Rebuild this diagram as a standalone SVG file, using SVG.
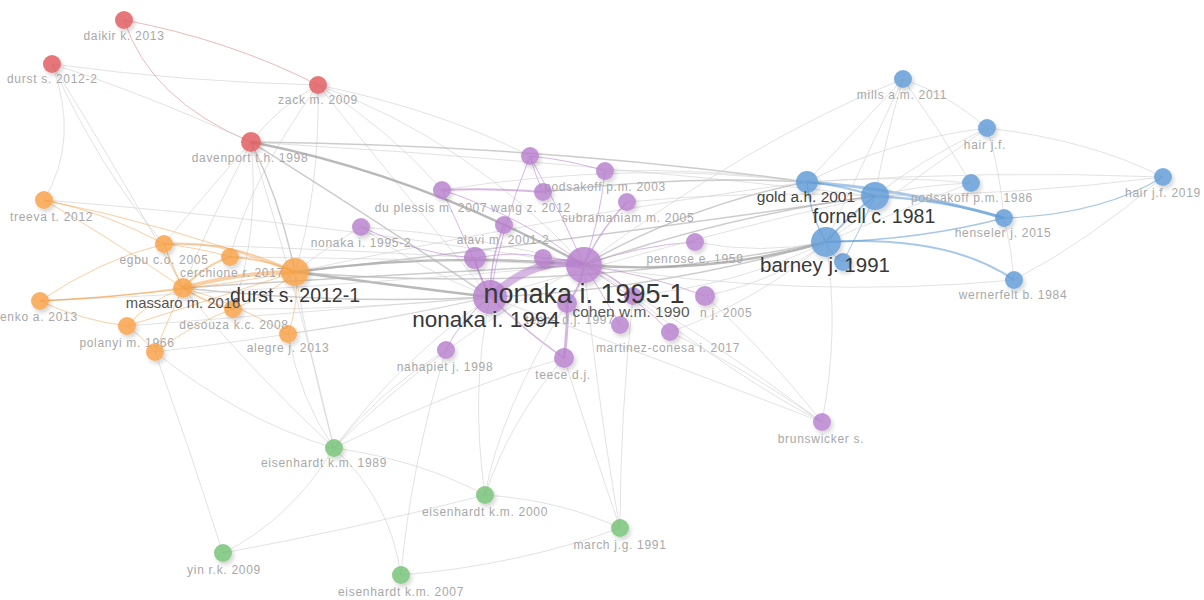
<svg xmlns="http://www.w3.org/2000/svg" width="1204" height="600" viewBox="0 0 1204 600">
<defs>
<filter id="sh" x="-50%" y="-50%" width="200%" height="200%"><feDropShadow dx="2" dy="3" stdDeviation="2.2" flood-color="#000" flood-opacity="0.2"/></filter>
<style>
.e{fill:none;stroke:#cfcfcf;stroke-width:1;opacity:.6}
.e2{fill:none;stroke:#b0b0b0;stroke-width:1.5;opacity:.65}
.e3{fill:none;stroke:#949494;stroke-width:2.4;opacity:.65}
.eo{fill:none;stroke:#f4a04a;opacity:.5}
.ep{fill:none;stroke:#b57ccc;opacity:.55}
.eb{fill:none;stroke:#5f9bd6;opacity:.55}
.er{fill:none;stroke:#e08a8e;opacity:.6}
circle{filter:url(#sh);opacity:.82}
.r{fill:#e05a5f}.o{fill:#f7a145}.p{fill:#b77fcc}.b{fill:#5f9bd6}.g{fill:#73c173}
text{font-family:"Liberation Sans",Arial,sans-serif;text-anchor:middle}
.l{font-size:12px;letter-spacing:.7px;fill:#a8a8a8}
.m{fill:#555}
.k{fill:#383838}
</style>
</defs>
<rect width="1204" height="600" fill="#fff"/>
<g id="connectors">
<path class="e" d="M52,64 Q185,82 318,85"/>
<path class="er" d="M124,20 Q230,40 318,85"/>
<path class="er" d="M124,20 Q150,100 251,142"/>
<path class="e" d="M52,64 Q140,92 251,142"/>
<path class="e" d="M52,64 Q80,140 44,200"/>
<path class="e" d="M52,64 Q100,170 164,244"/>
<path class="e" d="M52,64 Q130,190 183,288"/>
<path class="e" d="M318,85 Q280,105 251,142"/>
<path class="e" d="M318,85 Q470,140 584,265"/>
<path class="e" d="M318,85 Q410,200 490,297"/>
<path class="e" d="M318,85 Q320,190 295,272"/>
<path class="e" d="M318,85 Q440,110 530,156"/>
<path class="e" d="M318,85 Q390,130 442,190"/>
<path class="e" d="M318,85 Q250,180 230,257"/>
<path class="e" d="M251,142 Q200,200 164,244"/>
<path class="e" d="M251,142 Q210,220 183,288"/>
<path class="e" d="M251,142 Q260,230 233,309"/>
<path class="e" d="M251,142 Q300,300 334,448"/>
<path class="e2" d="M251,142 Q540,145 807,182"/>
<path class="e" d="M251,142 Q560,160 875,196"/>
<path class="e3" d="M251,142 Q420,175 584,265"/>
<path class="e2" d="M251,142 Q360,210 490,297"/>
<path class="e2" d="M251,142 Q280,200 295,272"/>
<path class="e3" d="M295,272 Q440,252 584,265"/>
<path class="e3" d="M295,272 Q390,285 490,297"/>
<path class="e2" d="M295,272 Q560,295 826,242"/>
<path class="e2" d="M295,272 Q580,240 875,196"/>
<path class="e" d="M295,272 Q560,215 807,182"/>
<path class="e2" d="M183,288 Q380,275 584,265"/>
<path class="e2" d="M183,288 Q340,305 490,297"/>
<path class="e" d="M164,244 Q380,250 584,265"/>
<path class="e" d="M230,257 Q400,258 584,265"/>
<path class="e" d="M233,309 Q360,310 490,297"/>
<path class="e" d="M288,334 Q390,320 490,297"/>
<path class="e" d="M361,227 Q330,245 295,272"/>
<path class="e" d="M361,227 Q420,270 490,297"/>
<path class="e" d="M361,227 Q480,235 584,265"/>
<path class="e" d="M127,326 Q330,310 490,297"/>
<path class="e" d="M155,352 Q340,330 490,297"/>
<path class="e" d="M44,200 Q300,220 584,265"/>
<path class="e" d="M40,301 Q300,290 584,265"/>
<path class="eo" stroke-width="4" d="M295,272 Q240,272 183,288"/>
<path class="eo" stroke-width="2" d="M295,272 Q262,258 230,257"/>
<path class="eo" stroke-width="2" d="M295,272 Q230,240 164,244"/>
<path class="eo" stroke-width="1.5" d="M183,288 Q170,262 164,244"/>
<path class="eo" stroke-width="2" d="M183,288 Q205,265 230,257"/>
<path class="eo" stroke-width="1.5" d="M183,288 Q210,305 233,309"/>
<path class="eo" stroke-width="1" d="M183,288 Q105,235 44,200"/>
<path class="eo" stroke-width="1.5" d="M183,288 Q110,298 40,301"/>
<path class="eo" stroke-width="1" d="M40,301 Q100,260 164,244"/>
<path class="eo" stroke-width="1" d="M40,301 Q80,320 127,326"/>
<path class="eo" stroke-width="1" d="M40,301 Q170,295 295,272"/>
<path class="eo" stroke-width="1" d="M44,200 Q105,212 164,244"/>
<path class="eo" stroke-width="1" d="M44,200 Q170,225 295,272"/>
<path class="eo" stroke-width="1" d="M127,326 Q150,300 183,288"/>
<path class="eo" stroke-width="1" d="M127,326 Q210,300 295,272"/>
<path class="eo" stroke-width="1" d="M155,352 Q140,335 127,326"/>
<path class="eo" stroke-width="1" d="M155,352 Q170,315 183,288"/>
<path class="eo" stroke-width="1" d="M155,352 Q200,320 233,309"/>
<path class="eo" stroke-width="1" d="M233,309 Q270,295 295,272"/>
<path class="eo" stroke-width="1" d="M288,334 Q300,300 295,272"/>
<path class="eo" stroke-width="1" d="M288,334 Q230,300 183,288"/>
<path class="eo" stroke-width="1" d="M230,257 Q200,248 164,244"/>
<path class="ep" stroke-width="8" d="M490,297 Q537,255 584,265"/>
<path class="ep" stroke-width="2" d="M442,190 Q492,188 543,192"/>
<path class="ep" stroke-width="1.5" d="M504,225 Q490,260 490,297"/>
<path class="ep" stroke-width="1.5" d="M490,297 Q478,275 475,258"/>
<path class="ep" stroke-width="1.5" d="M584,265 Q560,258 543,258"/>
<path class="ep" stroke-width="1.5" d="M627,202 Q600,230 584,265"/>
<path class="ep" stroke-width="2" d="M584,265 Q580,290 567,303"/>
<path class="ep" stroke-width="3" d="M567,303 Q568,330 564,358"/>
<path class="ep" stroke-width="1.5" d="M490,297 Q530,335 564,358"/>
<path class="ep" stroke-width="1.5" d="M584,265 Q615,275 633,296"/>
<path class="ep" stroke-width="1" d="M584,265 Q650,275 705,296"/>
<path class="ep" stroke-width="1" d="M584,265 Q640,300 670,332"/>
<path class="ep" stroke-width="1" d="M490,297 Q460,320 446,350"/>
<path class="ep" stroke-width="1" d="M530,156 Q535,175 543,192"/>
<path class="ep" stroke-width="1" d="M530,156 Q560,210 584,265"/>
<path class="ep" stroke-width="1" d="M530,156 Q500,230 490,297"/>
<path class="ep" stroke-width="1" d="M442,190 Q470,250 490,297"/>
<path class="ep" stroke-width="1" d="M442,190 Q520,215 584,265"/>
<path class="ep" stroke-width="1" d="M361,227 Q420,255 475,258"/>
<path class="ep" stroke-width="1" d="M605,171 Q600,220 584,265"/>
<path class="ep" stroke-width="1" d="M605,171 Q570,160 530,156"/>
<path class="ep" stroke-width="1" d="M695,242 Q640,245 584,265"/>
<path class="ep" stroke-width="1" d="M620,325 Q600,290 584,265"/>
<path class="ep" stroke-width="1" d="M475,258 Q520,250 543,258"/>
<path class="e3" d="M584,265 Q710,275 826,242"/>
<path class="e2" d="M584,265 Q730,215 875,196"/>
<path class="e2" d="M584,265 Q690,205 807,182"/>
<path class="e2" d="M490,297 Q660,290 826,242"/>
<path class="e" d="M490,297 Q700,235 875,196"/>
<path class="e2" d="M543,192 Q680,175 807,182"/>
<path class="e" d="M605,171 Q710,168 807,182"/>
<path class="e" d="M695,242 Q760,255 826,242"/>
<path class="e" d="M633,296 Q740,285 826,242"/>
<path class="e" d="M627,202 Q750,190 875,196"/>
<path class="e" d="M442,190 Q630,160 807,182"/>
<path class="e" d="M705,296 Q780,280 826,242"/>
<path class="e" d="M670,332 Q760,300 826,242"/>
<path class="e" d="M1014,280 Q800,300 584,265"/>
<path class="e" d="M584,265 Q750,140 903,79"/>
<path class="e" d="M822,422 Q700,330 584,265"/>
<path class="e" d="M822,422 Q660,360 490,297"/>
<path class="e" d="M822,422 Q740,365 670,332"/>
<path class="e" d="M822,422 Q760,345 705,296"/>
<path class="e" d="M822,422 Q840,330 826,242"/>
<path class="e" d="M822,422 Q740,380 633,296"/>
<path class="eb" stroke-width="3" d="M807,182 Q900,188 1004,218"/>
<path class="eb" stroke-width="2.5" d="M875,196 Q945,200 1004,218"/>
<path class="eb" stroke-width="2" d="M826,242 Q950,235 1014,280"/>
<path class="eb" stroke-width="1.5" d="M826,242 Q920,240 1004,218"/>
<path class="eb" stroke-width="1.2" d="M1004,218 Q1100,215 1163,177"/>
<path class="eb" stroke-width="2" d="M807,182 Q840,185 875,196"/>
<path class="eb" stroke-width="2" d="M875,196 Q850,215 826,242"/>
<path class="eb" stroke-width="1.5" d="M807,182 Q810,215 826,242"/>
<path class="eb" stroke-width="1" d="M843,262 Q830,255 826,242"/>
<path class="eb" stroke-width="1" d="M875,196 Q860,230 843,262"/>
<path class="e" d="M903,79 Q860,125 807,182"/>
<path class="e" d="M903,79 Q885,140 875,196"/>
<path class="e" d="M903,79 Q860,170 826,242"/>
<path class="e" d="M903,79 Q940,130 971,183"/>
<path class="e" d="M903,79 Q950,95 987,128"/>
<path class="e" d="M987,128 Q890,140 807,182"/>
<path class="e" d="M987,128 Q920,160 875,196"/>
<path class="e" d="M987,128 Q900,190 826,242"/>
<path class="e" d="M987,128 Q1090,140 1163,177"/>
<path class="e" d="M987,128 Q1000,170 1004,218"/>
<path class="e" d="M1163,177 Q990,170 807,182"/>
<path class="e" d="M1163,177 Q1020,195 875,196"/>
<path class="e" d="M1163,177 Q1090,240 1014,280"/>
<path class="e" d="M971,183 Q890,175 807,182"/>
<path class="e" d="M971,183 Q920,185 875,196"/>
<path class="e" d="M971,183 Q900,210 826,242"/>
<path class="e" d="M1004,218 Q1012,250 1014,280"/>
<path class="e" d="M334,448 Q400,360 490,297"/>
<path class="e" d="M334,448 Q440,340 584,265"/>
<path class="e" d="M334,448 Q380,390 446,350"/>
<path class="e" d="M334,448 Q450,390 564,358"/>
<path class="e" d="M334,448 Q310,360 295,272"/>
<path class="e" d="M334,448 Q250,370 183,288"/>
<path class="e" d="M334,448 Q300,400 288,334"/>
<path class="e" d="M334,448 Q290,520 223,553"/>
<path class="e" d="M334,448 Q390,500 401,575"/>
<path class="e" d="M334,448 Q420,460 485,495"/>
<path class="e" d="M485,495 Q510,420 564,358"/>
<path class="e" d="M485,495 Q500,410 567,303"/>
<path class="e" d="M485,495 Q470,390 490,297"/>
<path class="e" d="M620,528 Q590,440 564,358"/>
<path class="e" d="M620,528 Q600,420 584,265"/>
<path class="e" d="M620,528 Q620,420 633,296"/>
<path class="e" d="M620,528 Q560,500 485,495"/>
<path class="e" d="M401,575 Q520,565 620,528"/>
<path class="e" d="M223,553 Q350,530 485,495"/>
<path class="e" d="M223,553 Q190,450 155,352"/>
<path class="e" d="M401,575 Q410,470 446,350"/>
<path class="e" d="M155,352 Q240,420 334,448"/>
</g>
<g id="n-daikir"><circle class="r" cx="124" cy="20" r="9"/><text class="l" x="124" y="40">daikir k. 2013</text></g>
<g id="n-durst2"><circle class="r" cx="52" cy="64" r="9"/><text class="l" x="7" y="83" style="text-anchor:start">durst s. 2012-2</text></g>
<g id="n-zack"><circle class="r" cx="318" cy="85" r="9"/><text class="l" x="318" y="104">zack m. 2009</text></g>
<g id="n-davenport"><circle class="r" cx="251" cy="142" r="10"/><text class="l" x="250" y="162">davenport t.h. 1998</text></g>
<g id="n-treeva"><circle class="o" cx="44" cy="200" r="9"/><text class="l" x="10" y="221" style="text-anchor:start">treeva t. 2012</text></g>
<g id="n-egbu"><circle class="o" cx="164" cy="244" r="9"/><text class="l" x="164" y="264">egbu c.o. 2005</text></g>
<g id="n-cerchione"><circle class="o" cx="230" cy="257" r="9"/><text class="l" x="232" y="277">cerchione r. 2017</text></g>
<g id="n-enko"><circle class="o" cx="40" cy="301" r="9"/><text class="l" x="0" y="321" style="text-anchor:start">enko a. 2013</text></g>
<g id="n-desouza"><circle class="o" cx="233" cy="309" r="9"/><text class="l" x="234" y="329">desouza k.c. 2008</text></g>
<g id="n-polanyi"><circle class="o" cx="127" cy="326" r="9"/><text class="l" x="127" y="347">polanyi m. 1966</text></g>
<g id="n-o9"><circle class="o" cx="155" cy="352" r="9"/></g>
<g id="n-alegre"><circle class="o" cx="288" cy="334" r="9"/><text class="l" x="288" y="352">alegre j. 2013</text></g>
<g id="n-massaro"><circle class="o" cx="183" cy="288" r="10"/><text class="m" x="183" y="308" style="font-size:14.8px">massaro m. 2016</text></g>
<g id="n-p1"><circle class="p" cx="530" cy="156" r="9"/></g>
<g id="n-podsakoff2003"><circle class="p" cx="605" cy="171" r="9"/><text class="l" x="605" y="191">podsakoff p.m. 2003</text></g>
<g id="n-duplessis"><circle class="p" cx="442" cy="190" r="9"/><text class="l" x="431" y="212">du plessis m. 2007</text></g>
<g id="n-wang"><circle class="p" cx="543" cy="192" r="9"/><text class="l" x="531" y="212">wang z. 2012</text></g>
<g id="n-subramaniam"><circle class="p" cx="627" cy="202" r="9"/><text class="l" x="628" y="222">subramaniam m. 2005</text></g>
<g id="n-alavi"><circle class="p" cx="504" cy="225" r="9"/><text class="l" x="503" y="244">alavi m. 2001-2</text></g>
<g id="n-nonaka1995-2"><circle class="p" cx="361" cy="227" r="9"/><text class="l" x="361" y="247">nonaka i. 1995-2</text></g>
<g id="n-penrose"><circle class="p" cx="695" cy="242" r="9"/><text class="l" x="695" y="263">penrose e. 1959</text></g>
<g id="n-p9"><circle class="p" cx="475" cy="258" r="11"/></g>
<g id="n-p10"><circle class="p" cx="543" cy="258" r="9"/></g>
<g id="n-jansen"><circle class="p" cx="705" cy="296" r="10"/><text class="l" x="700" y="317" style="text-anchor:start">n j. 2005</text></g>
<g id="n-p16"><circle class="p" cx="620" cy="325" r="9"/></g>
<g id="n-martinez"><circle class="p" cx="670" cy="332" r="9"/><text class="l" x="668" y="352">martinez-conesa i. 2017</text></g>
<g id="n-nahapiet"><circle class="p" cx="446" cy="350" r="9"/><text class="l" x="445" y="371">nahapiet j. 1998</text></g>
<g id="n-teece"><circle class="p" cx="564" cy="358" r="10"/><text class="l" x="563" y="379">teece d.j.</text></g>
<g id="n-brunswicker"><circle class="p" cx="822" cy="422" r="9"/><text class="l" x="821" y="443">brunswicker s.</text></g>
<g id="n-teece1997"><circle class="p" cx="567" cy="303" r="10"/><text class="l" x="570" y="324">teece d.j. 1997</text></g>
<g id="n-cohen"><circle class="p" cx="633" cy="296" r="9"/><text class="m" x="631" y="317" style="font-size:15.5px;fill:#5a5a5a">cohen w.m. 1990</text></g>
<g id="n-mills"><circle class="b" cx="903" cy="79" r="9"/><text class="l" x="902" y="99">mills a.m. 2011</text></g>
<g id="n-hair"><circle class="b" cx="987" cy="128" r="9"/><text class="l" x="985" y="149">hair j.f.</text></g>
<g id="n-hair2019"><circle class="b" cx="1163" cy="177" r="9"/><text class="l" x="1163" y="197">hair j.f. 2019</text></g>
<g id="n-podsakoff1986"><circle class="b" cx="971" cy="183" r="9"/><text class="l" x="972" y="202">podsakoff p.m. 1986</text></g>
<g id="n-henseler"><circle class="b" cx="1004" cy="218" r="9"/><text class="l" x="1003" y="237">henseler j. 2015</text></g>
<g id="n-wernerfelt"><circle class="b" cx="1014" cy="280" r="9"/><text class="l" x="1013" y="299">wernerfelt b. 1984</text></g>
<g id="n-b9"><circle class="b" cx="843" cy="262" r="9"/></g>
<g id="n-gold"><circle class="b" cx="807" cy="182" r="11"/><text class="m" x="806" y="202" style="font-size:15.5px;fill:#444">gold a.h. 2001</text></g>
<g id="n-fornell"><circle class="b" cx="875" cy="196" r="14"/><text class="k" x="874" y="223" style="font-size:19.5px">fornell c. 1981</text></g>
<g id="n-barney"><circle class="b" cx="826" cy="242" r="15"/><text class="k" x="825" y="272" style="font-size:20.5px">barney j. 1991</text></g>
<g id="n-eisenhardt1989"><circle class="g" cx="334" cy="448" r="9"/><text class="l" x="324" y="467">eisenhardt k.m. 1989</text></g>
<g id="n-eisenhardt2000"><circle class="g" cx="485" cy="495" r="9"/><text class="l" x="485" y="516">eisenhardt k.m. 2000</text></g>
<g id="n-march"><circle class="g" cx="620" cy="528" r="9"/><text class="l" x="620" y="549">march j.g. 1991</text></g>
<g id="n-yin"><circle class="g" cx="223" cy="553" r="9"/><text class="l" x="224" y="574">yin r.k. 2009</text></g>
<g id="n-eisenhardt2007"><circle class="g" cx="401" cy="575" r="9"/><text class="l" x="401" y="596">eisenhardt k.m. 2007</text></g>
<g id="n-durst1"><circle class="o" cx="295" cy="272" r="14"/><text class="k" x="295" y="302" style="font-size:19.5px">durst s. 2012-1</text></g>
<g id="n-nonaka1994"><circle class="p" cx="490" cy="297" r="17"/><text class="k" x="486" y="327" style="font-size:22.5px">nonaka i. 1994</text></g>
<g id="n-nonaka1995-1"><circle class="p" cx="584" cy="265" r="18"/><text class="k" x="584" y="303" style="font-size:27px">nonaka i. 1995-1</text></g>
</svg>
